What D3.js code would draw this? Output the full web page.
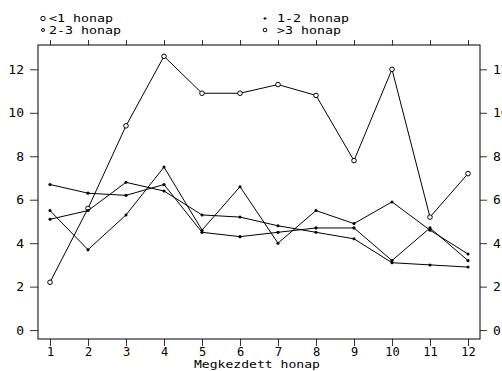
<!DOCTYPE html>
<html>
<head>
<meta charset="utf-8">
<script src="https://cdn.jsdelivr.net/npm/d3@7"></script>
<style>
  html, body { margin: 0; padding: 0; background: #fff; }
  svg { display: block; }
  text { font-family: "DejaVu Sans Mono", monospace; fill: #000; }
</style>
</head>
<body>
<svg id="chart" width="502" height="371"></svg>
<script>
// Months of the started period
const months = [1, 2, 3, 4, 5, 6, 7, 8, 9, 10, 11, 12];

// One series per duration group
const lessThan1 = [2.2, 5.6, 9.4, 12.6, 10.9, 10.9, 11.3, 10.8, 7.8, 12.0, 5.2, 7.2];
const oneToTwo  = [5.5, 3.7, 5.3, 7.5, 4.6, 6.6, 4.0, 5.5, 4.9, 5.9, 4.6, 3.5];
const twoToThree = [6.7, 6.3, 6.2, 6.7, 4.5, 4.3, 4.5, 4.7, 4.7, 3.2, 4.7, 3.2];
const moreThan3 = [5.1, 5.5, 6.8, 6.4, 5.3, 5.2, 4.8, 4.5, 4.2, 3.1, 3.0, 2.9];

const seriesNames = ["<1 honap", "1-2 honap", "2-3 honap", ">3 honap"];
const yTicks = [0, 2, 4, 6, 8, 10, 12];
const xTitle = "Megkezdett honap";

const series = [
  { name: seriesNames[0], values: lessThan1, symbol: "ring" },
  { name: seriesNames[1], values: oneToTwo, symbol: "plus" },
  { name: seriesNames[2], values: twoToThree, symbol: "dot" },
  { name: seriesNames[3], values: moreThan3, symbol: "small" }
];

const svg = d3.select("#chart");
const box = { left: 38, right: 480, top: 45, bottom: 339 };

const x = d3.scaleLinear().domain([0.684, 12.316]).range([box.left, box.right]);
const y = d3.scaleLinear().domain([-0.41, 13.12]).range([box.bottom, box.top]);

// Axes on all four sides
const axisStyle = size => g => {
  g.select(".domain").remove();
  g.selectAll(".tick line").attr("stroke", "#333");
  g.selectAll(".tick text").style("font-size", size + "px").style("font-family", "DejaVu Sans Mono, monospace").attr("fill", "#000");
};

svg.append("g")
  .attr("transform", `translate(0,${box.bottom})`)
  .call(d3.axisBottom(x).tickValues(months).tickFormat(d3.format("d")).tickSizeOuter(0).tickSizeInner(7).tickPadding(1))
  .call(axisStyle(12));

svg.append("g")
  .attr("transform", `translate(0,${box.top})`)
  .call(d3.axisTop(x).tickValues(months).tickFormat("").tickSizeOuter(0).tickSizeInner(5))
  .call(axisStyle(12));

svg.append("g")
  .attr("transform", `translate(${box.left},0)`)
  .call(d3.axisLeft(y).tickValues(yTicks).tickFormat(d3.format("d")).tickSizeOuter(0).tickSizeInner(8).tickPadding(6))
  .call(axisStyle(13));

svg.append("g")
  .attr("transform", `translate(${box.right},0)`)
  .call(d3.axisRight(y).tickValues(yTicks).tickFormat(d3.format("d")).tickSizeOuter(0).tickSizeInner(7).tickPadding(6))
  .call(axisStyle(13));

// Plot frame
svg.append("rect")
  .attr("x", box.left).attr("y", box.top)
  .attr("width", box.right - box.left).attr("height", box.bottom - box.top)
  .attr("fill", "none").attr("stroke", "#000").attr("stroke-width", 1);

// X axis title: wide, short lettering
svg.append("text")
  .attr("x", 194).attr("y", 368)
  .attr("textLength", 126)
  .attr("lengthAdjust", "spacingAndGlyphs")
  .style("font-size", "11px")
  .text(xTitle);

// Lines
const line = d3.line().x((d, i) => x(months[i])).y(d => y(d));

function drawSymbol(g, type, cx, cy) {
  if (type === "ring") {
    g.append("circle").attr("cx", cx).attr("cy", cy).attr("r", 2.3)
      .attr("fill", "#fff").attr("stroke", "#000").attr("stroke-width", 1);
  } else if (type === "dot") {
    g.append("circle").attr("cx", cx).attr("cy", cy).attr("r", 1.6).attr("fill", "#000");
  } else {
    g.append("circle").attr("cx", cx).attr("cy", cy).attr("r", 1.5).attr("fill", "#000");
  }
}

series.forEach(s => {
  const g = svg.append("g");
  g.append("path")
    .datum(s.values)
    .attr("d", line)
    .attr("fill", "none")
    .attr("stroke", "#000")
    .attr("stroke-width", 1);
  s.values.forEach((v, i) => drawSymbol(g, s.symbol, x(months[i]), y(v)));
});

// Legend (two columns, two rows)
const legendPos = [
  { sx: 43, tx: 49, ty: 22 },
  { sx: 265, tx: 277, ty: 22 },
  { sx: 43, tx: 49, ty: 33.5 },
  { sx: 265, tx: 277, ty: 33.5 }
];
const legendSymbols = [
  (g, cx, cy) => g.append("circle").attr("cx", cx).attr("cy", cy).attr("r", 2.2).attr("fill", "none").attr("stroke", "#000"),
  (g, cx, cy) => g.append("path").attr("d", `M${cx - 1.5},${cy}h3M${cx},${cy - 1.5}v3`).attr("stroke", "#000"),
  (g, cx, cy) => g.append("circle").attr("cx", cx).attr("cy", cy).attr("r", 1.5).attr("fill", "none").attr("stroke", "#000"),
  (g, cx, cy) => g.append("circle").attr("cx", cx).attr("cy", cy).attr("r", 1.8).attr("fill", "none").attr("stroke", "#000")
];
series.forEach((s, i) => {
  const p = legendPos[i];
  const g = svg.append("g");
  legendSymbols[i](g, p.sx, p.ty - 3.5);
  g.append("text")
    .attr("x", p.tx).attr("y", p.ty)
    .attr("textLength", s.name.length * 8)
    .attr("lengthAdjust", "spacingAndGlyphs")
    .style("font-size", "11px")
    .text(s.name);
});
</script>
</body>
</html>
